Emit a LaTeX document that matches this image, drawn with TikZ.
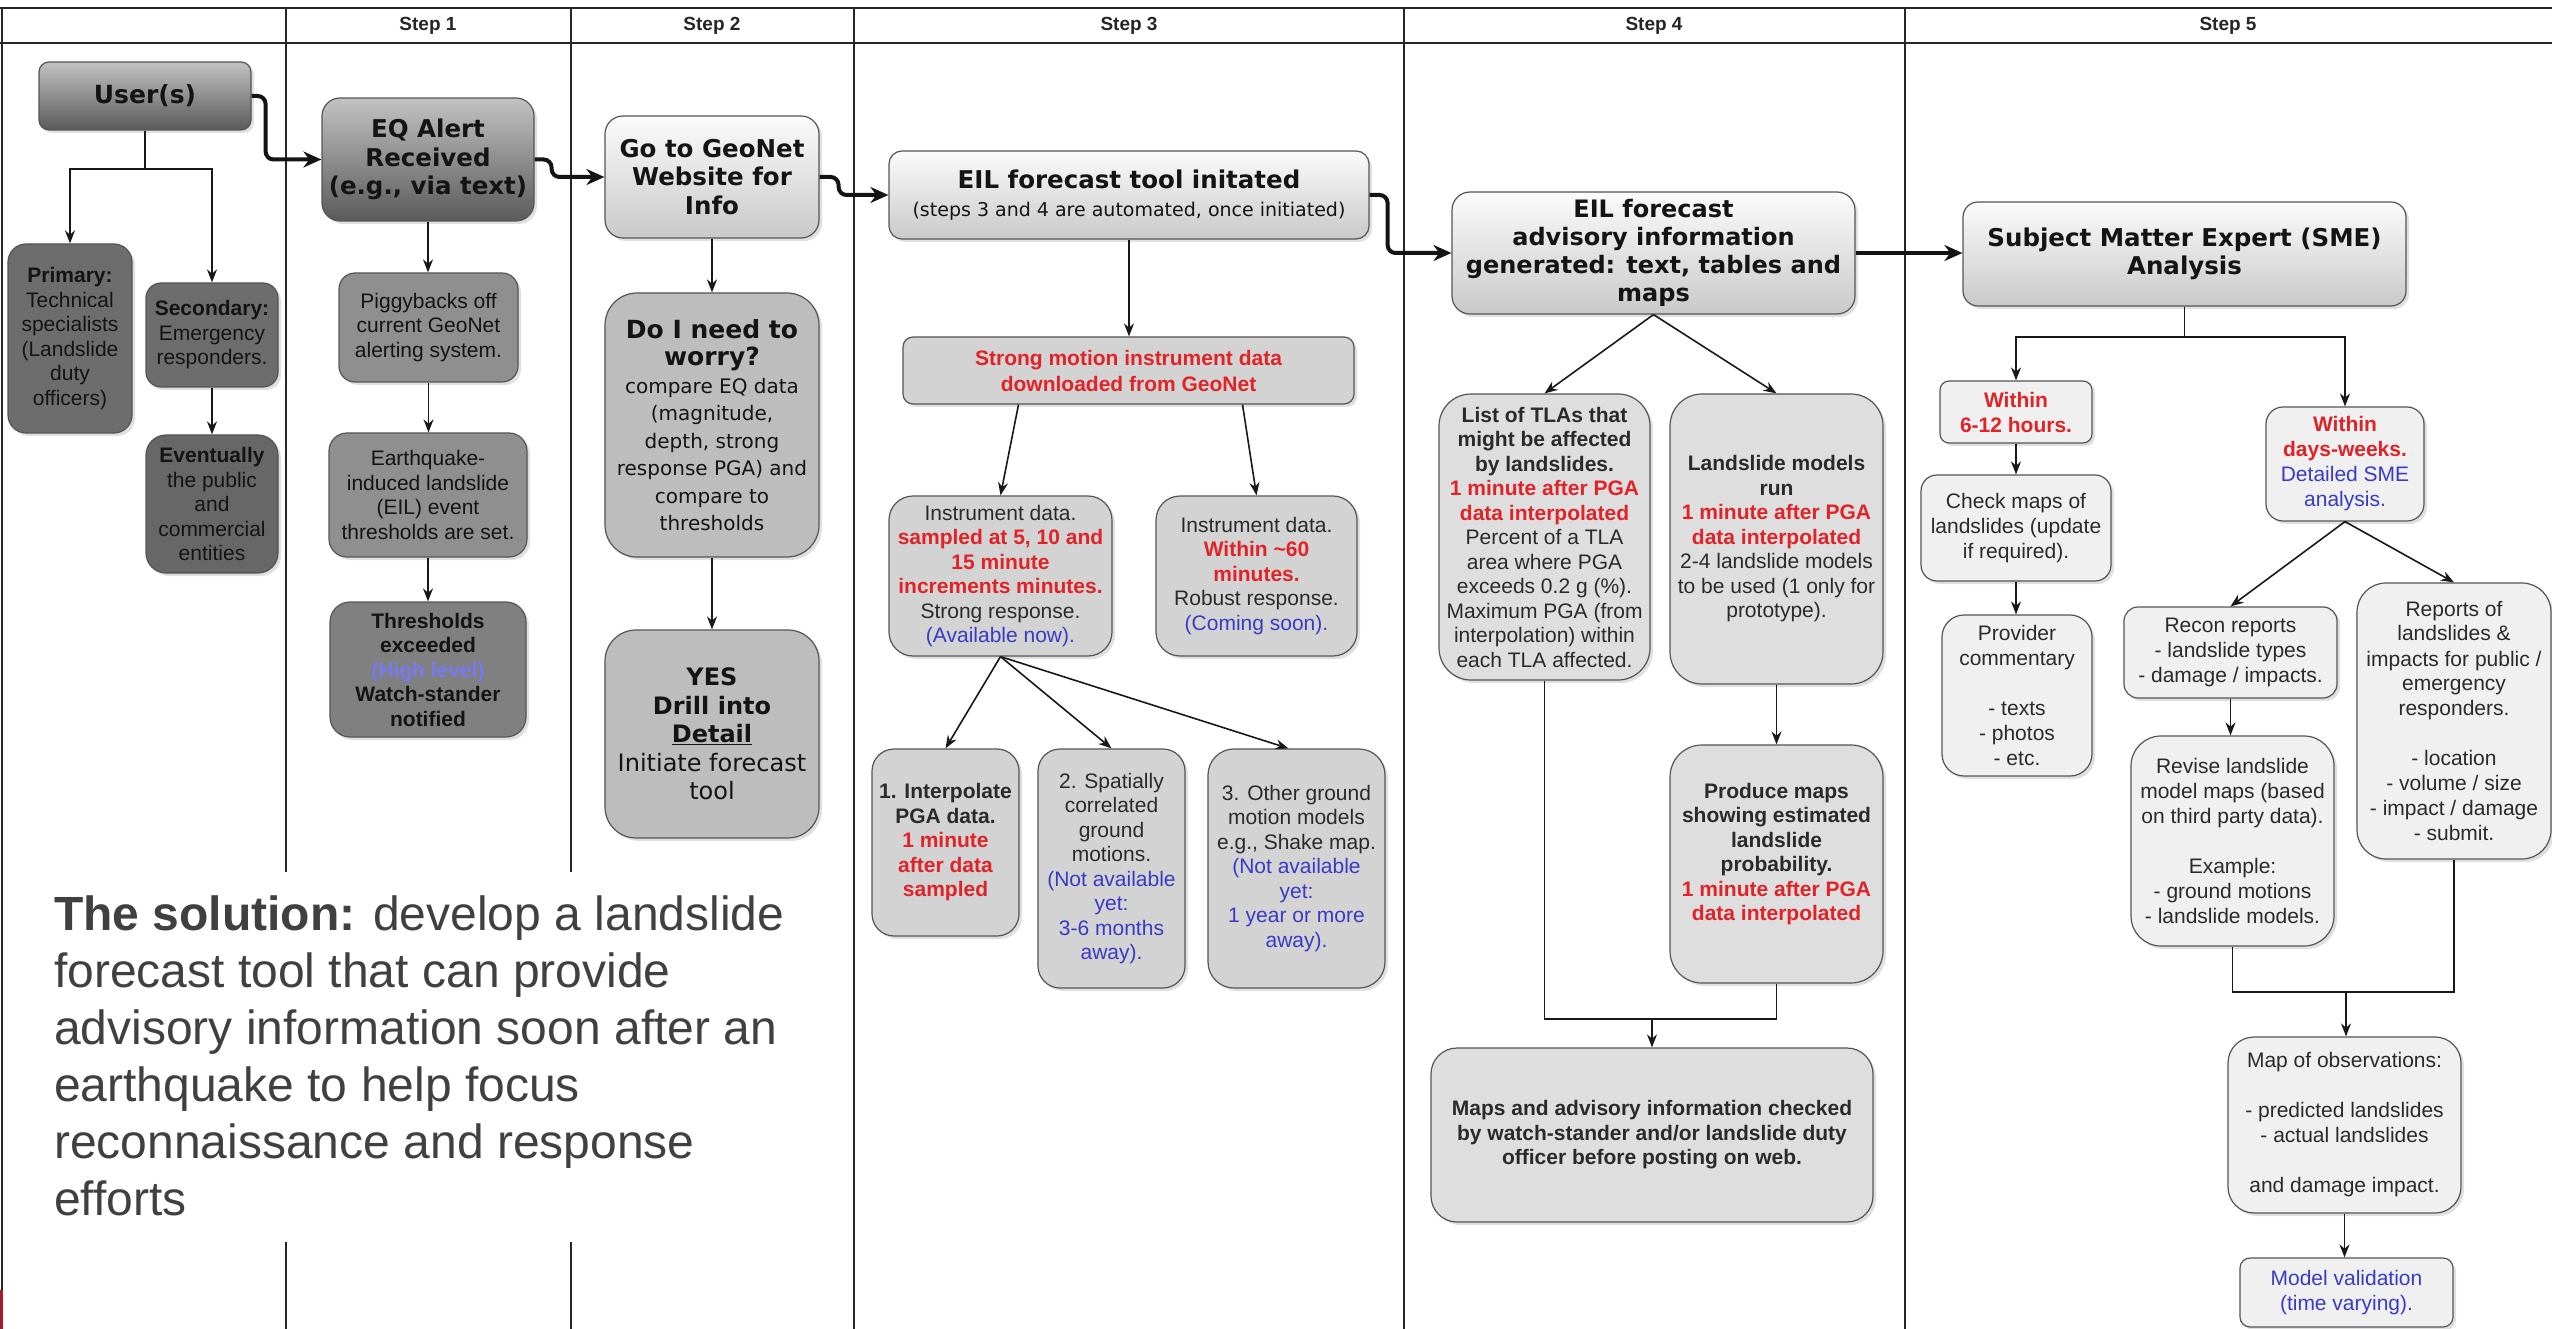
\documentclass[tikz,border=0pt]{standalone}
\usepackage{fontspec}
\setmainfont{Liberation Sans}
\newfontfamily\hfont{DejaVu Sans}
\usetikzlibrary{arrows.meta,shadows}
\definecolor{cRed}{HTML}{E02328}
\definecolor{cBlue}{HTML}{3A3AC4}
\definecolor{cHi}{HTML}{7878F2}
\definecolor{cTxt}{HTML}{2A2A2A}
\definecolor{cDark}{HTML}{141414}
\definecolor{cSol}{HTML}{404040}
\definecolor{dTop}{HTML}{C2C2C2}
\definecolor{dBot}{HTML}{5A5A5A}
\definecolor{lTop}{HTML}{FBFBFB}
\definecolor{lBot}{HTML}{C9C9C9}
\definecolor{fUser}{HTML}{6D6D6D}
\definecolor{fEvent}{HTML}{676767}
\definecolor{fStepA}{HTML}{8F8F8F}
\definecolor{fThr}{HTML}{808080}
\definecolor{fStepB}{HTML}{BDBDBD}
\definecolor{fStepC}{HTML}{D3D3D3}
\definecolor{fStepD}{HTML}{DEDEDE}
\definecolor{fStepE}{HTML}{F0F0F0}
\definecolor{cEdge}{HTML}{555555}
\definecolor{cMark}{HTML}{A6192E}
\newcommand\Rd[1]{{\color{cRed}\bfseries #1}}
\newcommand\Bl[1]{{\color{cBlue}#1}}
\newcommand\HB[1]{{\bfseries\fontsize{25}{28}\selectfont #1}}
\tikzset{
  box/.style={draw=cEdge, line width=1.2pt, align=center, inner sep=3pt, text=cTxt,
    general shadow={fill=black, opacity=0.12, shadow xshift=3pt, shadow yshift=-3pt}},
  sz/.style n args={3}{minimum width=#1pt, minimum height=#2pt, rounded corners=#3pt},
  smalltxt/.style={font=\fontsize{21}{24.5}\selectfont},
  hd/.style={font=\hfont\bfseries\fontsize{24.5}{28.5}\selectfont, text=cDark},
  darkg/.style={top color=dTop, bottom color=dBot},
  lightg/.style={top color=lTop, bottom color=lBot},
  conn/.style={line width=1.6pt, draw=black!90, -{Stealth[length=13pt,width=10pt]}},
  plain/.style={line width=1.6pt, draw=black!90},
  flow/.style={line width=4pt, draw=black!92, -{Stealth[length=18pt,width=16pt]}, rounded corners=8pt},
  tablerule/.style={line width=2pt, draw=black!85},
  steplabel/.style={font=\bfseries\fontsize{19}{22}\selectfont, text=black!85},
}
\begin{document}
\begin{tikzpicture}[x=1pt, y=-1pt]
\useasboundingbox (0,0) rectangle (2552,1329);
\fill[white] (0,0) rectangle (2552,1329);

% table
\draw[tablerule] (0,8) -- (2552,8);
\draw[tablerule] (0,43) -- (2552,43);
\draw[tablerule] (2,8) -- (2,1329);
\draw[tablerule] (286,8) -- (286,872);
\draw[tablerule] (286,1242) -- (286,1329);
\draw[tablerule] (570.5,8) -- (570.5,872);
\draw[tablerule] (570.5,1242) -- (570.5,1329);
\draw[tablerule] (854,8) -- (854,1329);
\draw[tablerule] (1403.5,8) -- (1403.5,1329);
\draw[tablerule] (1904.5,8) -- (1904.5,1329);
\fill[cMark] (0,1290) rectangle (3,1329);

\node[steplabel] (hs1) at (428,26) {Step 1};
\node[steplabel] (hs2) at (712,26) {Step 2};
\node[steplabel] (hs3) at (1129,26) {Step 3};
\node[steplabel] (hs4) at (1654,26) {Step 4};
\node[steplabel] (hs5) at (2228,26) {Step 5};

% users column
\node[box, darkg, hd, sz={212}{68}{10}, font=\hfont\bfseries\fontsize{25}{29}\selectfont] (users) at (145,96) {User(s)};
\node[box, fill=fUser, smalltxt, text=cDark, sz={124}{189}{18}] (prim) at (70,338.5)
  {\textbf{Primary:}\\Technical\\specialists\\(Landslide\\duty\\officers)};
\node[box, fill=fUser, smalltxt, text=cDark, sz={132}{104}{15}] (sec) at (212,335)
  {\textbf{Secondary:}\\Emergency\\responders.};
\node[box, fill=fEvent, smalltxt, text=cDark, sz={132}{138}{20}] (evt) at (212,504)
  {\textbf{Eventually}\\the public\\and\\commercial\\entities};

% step 1
\node[box, darkg, hd, sz={212}{123}{18}] (eq) at (428,159.5) {EQ Alert\\Received\\(e.g., via text)};
\node[box, fill=fStepA, smalltxt, text=cDark, sz={179}{109}{16}] (pig) at (428.5,327.5)
  {Piggybacks off\\current GeoNet\\alerting system.};
\node[box, fill=fStepA, smalltxt, text=cDark, sz={198}{124}{18}] (quake) at (428,495)
  {Earthquake-\\induced landslide\\(EIL) event\\thresholds are set.};
\node[box, fill=fThr, smalltxt, text=cDark, sz={196}{135}{20}] (thr) at (428,669.5)
  {\textbf{Thresholds}\\\textbf{exceeded}\\{\color{cHi}\bfseries(High level)}\\\textbf{Watch-stander}\\\textbf{notified}};

% step 2
\node[box, lightg, hd, sz={214}{122}{18}] (geo) at (712,177) {Go to GeoNet\\Website for\\Info};
\node[box, fill=fStepB, text=cDark, font=\hfont\fontsize{20}{27.5}\selectfont, sz={214}{264}{32}] (worry) at (712,425)
  {\HB{Do I need to}\\\HB{worry?}\\compare EQ data\\(magnitude,\\depth, strong\\response PGA) and\\compare to\\thresholds};
\node[box, fill=fStepB, text=cDark, font=\hfont\fontsize{24}{28.5}\selectfont, sz={214}{208}{31}] (yes) at (712,734)
  {\textbf{YES}\\\textbf{Drill into}\\\textbf{\underline{Detail}}\\Initiate forecast\\tool};

% step 3
\node[box, lightg, text=cDark, font=\hfont\fontsize{24.5}{28}\selectfont, sz={480}{88}{13}] (tool) at (1129,195)
  {\textbf{EIL forecast tool initated}\\{\fontsize{19}{28}\selectfont (steps 3 and 4 are automated, once initiated)}};
\node[box, fill=fStepC, font=\fontsize{21}{26}\selectfont, sz={451}{67}{10}] (strong) at (1128.5,370.5)
  {\Rd{Strong motion instrument data}\\\Rd{downloaded from GeoNet}};
\node[box, fill=fStepC, smalltxt, sz={223}{160}{24}] (instl) at (1000.5,576)
  {Instrument data.\\\Rd{sampled at 5, 10 and}\\\Rd{15 minute}\\\Rd{increments minutes.}\\Strong response.\\\Bl{(Available now).}};
\node[box, fill=fStepC, smalltxt, sz={201}{160}{24}] (instr) at (1256.5,576)
  {Instrument data.\\\Rd{Within \textasciitilde60}\\\Rd{minutes.}\\Robust response.\\\Bl{(Coming soon).}};
\node[box, fill=fStepC, smalltxt, sz={147}{187}{22}] (interp) at (945.5,842.5)
  {\textbf{1. Interpolate}\\\textbf{PGA data.}\\\Rd{1 minute}\\\Rd{after data}\\\Rd{sampled}};
\node[box, fill=fStepC, smalltxt, sz={147}{239}{22}] (spat) at (1111.5,868.5)
  {2. Spatially\\correlated\\ground\\motions.\\\Bl{(Not available}\\\Bl{yet:}\\\Bl{3-6 months}\\\Bl{away).}};
\node[box, fill=fStepC, smalltxt, sz={177}{239}{26}] (other) at (1296.5,868.5)
  {3. Other ground\\motion models\\e.g., Shake map.\\\Bl{(Not available}\\\Bl{yet:}\\\Bl{1 year or more}\\\Bl{away).}};

% step 4
\node[box, lightg, hd, font=\hfont\bfseries\fontsize{24}{28}\selectfont, sz={403}{122}{18}] (adv) at (1653.5,253)
  {EIL forecast\\advisory information\\generated: text, tables and\\maps};
\node[box, fill=fStepD, smalltxt, sz={211}{286}{32}] (tla) at (1544.5,537)
  {\textbf{List of TLAs that}\\\textbf{might be affected}\\\textbf{by landslides.}\\\Rd{1 minute after PGA}\\\Rd{data interpolated}\\Percent of a TLA\\area where PGA\\exceeds 0.2 g (\%).\\Maximum PGA (from\\interpolation) within\\each TLA affected.};
\node[box, fill=fStepD, smalltxt, sz={213}{290}{32}] (lmod) at (1776.5,539)
  {\textbf{Landslide models}\\\textbf{run}\\\Rd{1 minute after PGA}\\\Rd{data interpolated}\\2-4 landslide models\\to be used (1 only for\\prototype).};
\node[box, fill=fStepD, smalltxt, sz={213}{238}{32}] (prod) at (1776.5,864)
  {\textbf{Produce maps}\\\textbf{showing estimated}\\\textbf{landslide}\\\textbf{probability.}\\\Rd{1 minute after PGA}\\\Rd{data interpolated}\\\mbox{}};
\node[box, fill=fStepD, smalltxt, sz={442}{174}{26}] (maps) at (1652,1135)
  {\textbf{Maps and advisory information checked}\\\textbf{by watch-stander and/or landslide duty}\\\textbf{officer before posting on web.}};

% step 5
\node[box, lightg, hd, sz={443}{104}{15}] (sme) at (2184.5,254) {Subject Matter Expert (SME)\\Analysis};
\node[box, fill=fStepE, font=\fontsize{21}{25}\selectfont, sz={152}{62}{9}] (w612) at (2016,412)
  {\Rd{Within}\\\Rd{6-12 hours.}};
\node[box, fill=fStepE, font=\fontsize{21}{25}\selectfont, sz={158}{114}{17}] (wdays) at (2345,464)
  {\Rd{Within}\\\Rd{days-weeks.}\\\Bl{Detailed SME}\\\Bl{analysis.}};
\node[box, fill=fStepE, font=\fontsize{21}{25}\selectfont, sz={190}{106}{16}] (check) at (2016,528)
  {Check maps of\\landslides (update\\if required).};
\node[box, fill=fStepE, font=\fontsize{21}{25}\selectfont, sz={150}{161}{22}] (prov) at (2017,695.5)
  {Provider\\commentary\\\mbox{}\\- texts\\- photos\\- etc.};
\node[box, fill=fStepE, font=\fontsize{21}{25}\selectfont, sz={213}{91}{14}] (recon) at (2230.5,652.5)
  {Recon reports\\- landslide types\\- damage / impacts.};
\node[box, fill=fStepE, font=\fontsize{21}{25}\selectfont, sz={194}{276}{29}] (reports) at (2454,721)
  {Reports of\\landslides \&\\impacts for public /\\emergency\\responders.\\\mbox{}\\- location\\- volume / size\\- impact / damage\\- submit.};
\node[box, fill=fStepE, font=\fontsize{21}{25}\selectfont, sz={203}{210}{30}] (revise) at (2232.5,841)
  {Revise landslide\\model maps (based\\on third party data).\\\mbox{}\\Example:\\- ground motions\\- landslide models.};
\node[box, fill=fStepE, font=\fontsize{21}{25}\selectfont, sz={233}{176}{26}] (mapobs) at (2344.5,1125)
  {Map of observations:\\\mbox{}\\- predicted landslides\\- actual landslides\\\mbox{}\\and damage impact.};
\node[box, fill=fStepE, font=\fontsize{21}{25}\selectfont, sz={213}{69}{10}] (valid) at (2346.5,1292.5)
  {\Bl{Model validation}\\\Bl{(time varying).}};

% solution text
\node[anchor=north west, align=left, inner sep=0pt, text=cSol, font=\fontsize{48}{57}\selectfont] (sol) at (54,896)
  {\textbf{The solution:} develop a landslide\\forecast tool that can provide\\advisory information soon after an\\earthquake to help focus\\reconnaissance and response\\efforts};

% main flow
\draw[flow] (users.east) -- ++(14,0) |- (eq.west);
\draw[flow] (eq.east) -- ++(17,0) |- (geo.west);
\draw[flow] (geo.east) -- ++(19,0) |- (tool.west);
\draw[flow] (tool.east) -- ++(18,0) |- (adv.west);
\draw[flow] (adv.east) -- (sme.west |- adv.east);

% users
\coordinate (usplit) at (145,169);
\draw[plain] (users.south) -- (usplit);
\draw[conn] (usplit) -| (prim.north);
\draw[conn] (usplit) -| (sec.north);
\draw[conn] (sec.south) -- (evt.north);

% step 1, 2
\draw[conn] (eq.south) -- (eq.south |- pig.north);
\draw[conn] (pig.south) -- (pig.south |- quake.north);
\draw[conn] (quake.south) -- (quake.south |- thr.north);
\draw[conn] (geo.south) -- (worry.north);
\draw[conn] (worry.south) -- (yes.north);

% step 3
\draw[conn] (tool.south) -- (tool.south |- strong.north);
\draw[conn] ([xshift=-110pt]strong.south) -- (instl.north);
\draw[conn] ([xshift=114pt]strong.south) -- (instr.north);
\draw[conn] (instl.south) -- (interp.north);
\draw[conn] (instl.south) -- (spat.north);
\draw[conn] (instl.south) -- ([xshift=-8pt]other.north);

% step 4
\draw[conn] (adv.south) -- (tla.north);
\draw[conn] (adv.south) -- (lmod.north);
\draw[conn] (lmod.south) -- (prod.north);
\coordinate (j4) at (1652,1019);
\draw[plain] (tla.south) |- (j4) -| (prod.south);
\draw[conn] (j4) -- (j4 |- maps.north);

% step 5
\coordinate (s5) at (2184.5,337);
\draw[plain] (sme.south) -- (s5);
\draw[conn] (s5) -| (w612.north);
\draw[conn] (s5) -| (wdays.north);
\draw[conn] (w612.south) -- (w612.south |- check.north);
\draw[conn] (check.south) -- (check.south |- prov.north);
\draw[conn] (wdays.south) -- (recon.north);
\draw[conn] (wdays.south) -- (reports.north);
\draw[conn] (recon.south) -- (recon.south |- revise.north);
\coordinate (j5) at (2346,992);
\draw[plain] (revise.south) |- (j5) -| (reports.south);
\draw[conn] (j5) -- (j5 |- mapobs.north);
\draw[conn] (mapobs.south) -- (mapobs.south |- valid.north);
\end{tikzpicture}
\end{document}
